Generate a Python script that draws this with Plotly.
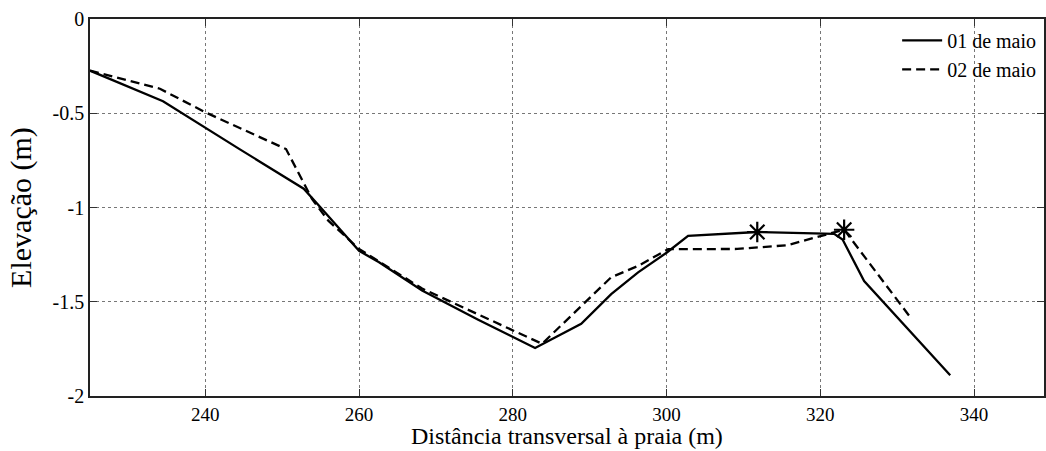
import plotly.graph_objects as go

# 01 de maio
x1 = [225, 234.5, 244.4, 252.8, 255.0, 260.0, 262.6, 268.2, 275.5, 282.9, 285.0, 288.9, 292.8, 296.3, 300.0, 302.8, 311.8, 321.8, 322.9, 325.7, 336.9]
y1 = [-0.274, -0.436, -0.689, -0.90, -1.00, -1.23, -1.29, -1.44, -1.595, -1.745, -1.70, -1.617, -1.46, -1.344, -1.24, -1.15, -1.13, -1.14, -1.17, -1.39, -1.89]

# 02 de maio
x2 = [225, 234.1, 240.1, 250.5, 253.9, 256.0, 260.0, 268.2, 283.8, 286.3, 292.8, 296.3, 300.2, 309.2, 315.7, 321.8, 323.1, 331.7]
y2 = [-0.274, -0.37, -0.497, -0.69, -0.956, -1.07, -1.22, -1.43, -1.723, -1.626, -1.37, -1.31, -1.221, -1.22, -1.20, -1.132, -1.118, -1.582]

# asterisk markers
xm = [311.8, 323.1]
ym = [-1.13, -1.118]

xticks = [240, 260, 280, 300, 320, 340]
yticks = [0, -0.5, -1, -1.5, -2]
ytick_text = ["0", "-0.5", "-1", "-1.5", "-2"]

font = "Liberation Serif, Times New Roman, serif"

fig = go.Figure()
fig.add_trace(go.Scatter(x=x1, y=y1, mode="lines", name="01 de maio",
                         line=dict(color="black", width=2.3)))
fig.add_trace(go.Scatter(x=x2, y=y2, mode="lines", name="02 de maio",
                         line=dict(color="black", width=2.3, dash="9px,5px")))
fig.add_trace(go.Scatter(x=xm, y=ym, mode="markers", showlegend=False,
                         marker=dict(symbol="asterisk-open", size=17, color="black",
                                     line=dict(color="black", width=2.2))))

fig.update_layout(
    width=1046, height=451,
    margin=dict(l=90, r=0, t=19, b=55),
    paper_bgcolor="white", plot_bgcolor="white",
    font=dict(family=font, color="black", size=19),
    legend=dict(x=0.997, y=0.995, xanchor="right", yanchor="top",
                bgcolor="rgba(0,0,0,0)", borderwidth=0,
                font=dict(family=font, size=20), tracegroupgap=0,
                itemwidth=40),
    showlegend=True,
    annotations=[dict(text="Distância transversal à praia (m)", xref="paper", yref="paper",
                      x=0.5, y=0, xanchor="center", yanchor="bottom", yshift=-54,
                      borderpad=0,
                      showarrow=False, font=dict(family=font, size=24, color="black"))],
)
fig.update_xaxes(range=[225, 349.1], tickvals=xticks, ticks="inside", ticklen=7,
                 tickcolor="#333", showline=True, linecolor="#222", linewidth=1.5,
                 mirror="ticks", showgrid=True, gridcolor="#777", griddash="dot",
                 gridwidth=1, zeroline=False, automargin=False,
                 tickfont=dict(size=19))
fig.update_yaxes(range=[-2, 0], tickvals=yticks, ticktext=ytick_text, ticks="inside", ticklen=7,
                 tickcolor="#333", showline=True, linecolor="#222", linewidth=1.5,
                 mirror="ticks", showgrid=True, gridcolor="#777", griddash="dot",
                 gridwidth=1, zeroline=False,
                 title=dict(text="Elevação (m)", font=dict(size=30), standoff=12),
                 tickfont=dict(size=20))

fig.write_html("out.html")
